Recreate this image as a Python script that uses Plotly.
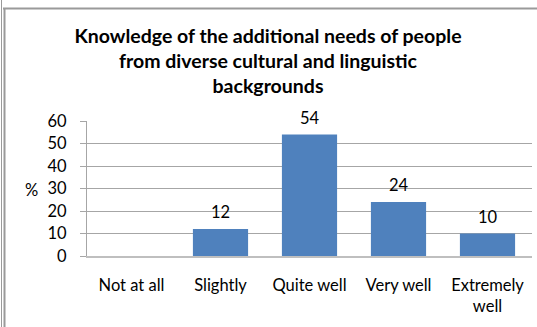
import plotly.graph_objects as go

categories = ["Not at all", "Slightly", "Quite well", "Very well", "Extremely<br>well"]
values = [0, 12, 54, 24, 10]
labels = ["", "12", "54", "24", "10"]
y_ticks = [0, 10, 20, 30, 40, 50, 60]

FONT = "Lato, Carlito, Calibri, sans-serif"
FS = 16.5
W, H = 537, 327
L, R, T, B = 87, 5, 121, 71
pw, ph = W - L - R, H - T - B

def px(x):
    return (x - L) / pw

def py(y):
    return (H - B - y) / ph

fig = go.Figure()
fig.add_trace(go.Bar(
    x=categories, y=values,
    marker=dict(color="#4F81BD", line=dict(width=0)),
    width=0.62,
    hoverinfo="x+y",
))

for c, v, t in zip(categories, values, labels):
    if t:
        fig.add_annotation(x=c, y=v, text=t, showarrow=False, xref="x", yref="y",
                           yanchor="bottom", yshift=5,
                           font=dict(family=FONT, size=FS, color="#000000"))

fig.add_annotation(x=px(31), y=py(190), xref="paper", yref="paper", text="%",
                   xanchor="center", yanchor="middle",
                   showarrow=False, font=dict(family=FONT, size=FS, color="#000000"))

fig.update_layout(
    width=W, height=H,
    margin=dict(l=L, r=R, t=T, b=B),
    paper_bgcolor="white", plot_bgcolor="white",
    showlegend=False,
    title=dict(
        text="Knowledge of the additional needs of people<br>from diverse cultural and linguistic<br>backgrounds",
        xref="container", yref="container",
        x=268 / W, xanchor="center", y=1 - 42.5 / H, yanchor="top",
        font=dict(family=FONT, size=19.5, color="#000000", weight="bold"),
    ),
    xaxis=dict(
        showgrid=False, showline=True, linecolor="#BFBFBF", linewidth=2,
        ticks="", tickfont=dict(family=FONT, size=FS, color="#000000"),
        ticklabelstandoff=13,
    ),
    yaxis=dict(
        range=[0, 60], tickvals=y_ticks, showgrid=True, gridcolor="#A6A6A6", gridwidth=1,
        showline=True, linecolor="#A6A6A6", linewidth=1,
        ticks="outside", ticklen=6, tickcolor="#A6A6A6",
        tickfont=dict(family=FONT, size=FS, color="#000000"),
        zeroline=False, ticklabelstandoff=10,
    ),
    shapes=[
        dict(type="line", xref="paper", yref="paper", x0=px(3), x1=px(537), y0=py(8.5), y1=py(8.5),
             line=dict(color="#9A9A9A", width=2)),
        dict(type="line", xref="paper", yref="paper", x0=px(1.5), x1=px(1.5), y0=py(0), y1=py(327),
             line=dict(color="#9A9A9A", width=1)),
        dict(type="line", xref="paper", yref="paper", x0=px(4.5), x1=px(4.5), y0=py(8), y1=py(327),
             line=dict(color="#9A9A9A", width=2)),
    ],
)

fig.write_html("out.html")
